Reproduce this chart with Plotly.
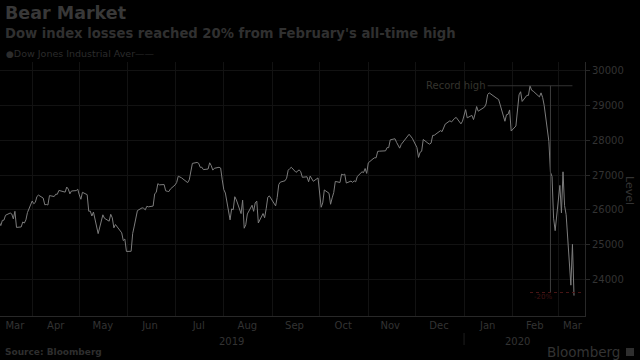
import plotly.graph_objects as go

dates = [
"2019-03-11","2019-03-12","2019-03-13","2019-03-14","2019-03-15","2019-03-18","2019-03-19","2019-03-20","2019-03-21","2019-03-22",
"2019-03-25","2019-03-26","2019-03-27","2019-03-28","2019-03-29",
"2019-04-01","2019-04-02","2019-04-03","2019-04-04","2019-04-05","2019-04-08","2019-04-09","2019-04-10","2019-04-11","2019-04-12",
"2019-04-15","2019-04-16","2019-04-17","2019-04-18","2019-04-22","2019-04-23","2019-04-24","2019-04-25","2019-04-26","2019-04-29","2019-04-30",
"2019-05-01","2019-05-02","2019-05-03","2019-05-06","2019-05-07","2019-05-08","2019-05-09","2019-05-10","2019-05-13","2019-05-14",
"2019-05-15","2019-05-16","2019-05-17","2019-05-20","2019-05-21","2019-05-22","2019-05-23","2019-05-24","2019-05-28","2019-05-29","2019-05-30","2019-05-31",
"2019-06-03","2019-06-04","2019-06-05","2019-06-06","2019-06-07","2019-06-10","2019-06-11","2019-06-12","2019-06-13","2019-06-14",
"2019-06-17","2019-06-18","2019-06-19","2019-06-20","2019-06-21","2019-06-24","2019-06-25","2019-06-26","2019-06-27","2019-06-28",
"2019-07-01","2019-07-02","2019-07-03","2019-07-05","2019-07-08","2019-07-09","2019-07-10","2019-07-11","2019-07-12","2019-07-15",
"2019-07-16","2019-07-17","2019-07-18","2019-07-19","2019-07-22","2019-07-23","2019-07-24","2019-07-25","2019-07-26","2019-07-29","2019-07-30","2019-07-31",
"2019-08-01","2019-08-02","2019-08-05","2019-08-06","2019-08-07","2019-08-08","2019-08-09","2019-08-12","2019-08-13","2019-08-14",
"2019-08-15","2019-08-16","2019-08-19","2019-08-20","2019-08-21","2019-08-22","2019-08-23","2019-08-26","2019-08-27","2019-08-28","2019-08-29","2019-08-30",
"2019-09-03","2019-09-04","2019-09-05","2019-09-06","2019-09-09","2019-09-10","2019-09-11","2019-09-12","2019-09-13","2019-09-16",
"2019-09-17","2019-09-18","2019-09-19","2019-09-20","2019-09-23","2019-09-24","2019-09-25","2019-09-26","2019-09-27","2019-09-30",
"2019-10-01","2019-10-02","2019-10-03","2019-10-04","2019-10-07","2019-10-08","2019-10-09","2019-10-10","2019-10-11","2019-10-14",
"2019-10-15","2019-10-16","2019-10-17","2019-10-18","2019-10-21","2019-10-22","2019-10-23","2019-10-24","2019-10-25","2019-10-28","2019-10-29","2019-10-30","2019-10-31",
"2019-11-01","2019-11-04","2019-11-05","2019-11-06","2019-11-07","2019-11-08","2019-11-11","2019-11-12","2019-11-13","2019-11-14",
"2019-11-15","2019-11-18","2019-11-19","2019-11-20","2019-11-21","2019-11-22","2019-11-25","2019-11-26","2019-11-27","2019-11-29",
"2019-12-02","2019-12-03","2019-12-04","2019-12-05","2019-12-06","2019-12-09","2019-12-10","2019-12-11","2019-12-12","2019-12-13",
"2019-12-16","2019-12-17","2019-12-18","2019-12-19","2019-12-20","2019-12-23","2019-12-24","2019-12-26","2019-12-27","2019-12-30","2019-12-31",
"2020-01-02","2020-01-03","2020-01-06","2020-01-07","2020-01-08","2020-01-09","2020-01-10","2020-01-13","2020-01-14","2020-01-15",
"2020-01-16","2020-01-17","2020-01-21","2020-01-22","2020-01-23","2020-01-24","2020-01-27","2020-01-28","2020-01-29","2020-01-30","2020-01-31",
"2020-02-03","2020-02-04","2020-02-05","2020-02-06","2020-02-07","2020-02-10","2020-02-11","2020-02-12","2020-02-13","2020-02-14",
"2020-02-18","2020-02-19","2020-02-20","2020-02-21","2020-02-24","2020-02-25","2020-02-26","2020-02-27","2020-02-28",
"2020-03-02","2020-03-03","2020-03-04","2020-03-05","2020-03-06","2020-03-09","2020-03-10","2020-03-11",
]

closes = [
25650,25555,25703,25709,25849,25914,25887,25745,25962,25502,
25516,25658,25626,25717,25929,
26258,26179,26218,26385,26425,26341,26150,26157,26143,26412,
26385,26452,26449,26559,26511,26656,26597,26462,26543,26554,26593,
26430,26307,26505,26438,25965,25968,25828,25942,25324,25532,
25648,25862,25764,25680,25877,25776,25490,25585,25347,25126,25169,24815,
24820,25332,25540,25720,25983,26062,26048,26004,26106,26090,
26112,26465,26504,26753,26719,26727,26548,26536,26526,26600,
26717,26787,26966,26922,26806,26783,26860,27088,27332,27359,
27335,27219,27223,27154,27171,27349,27269,27140,27192,27221,27198,26864,
26583,26485,25718,26030,26008,26379,26287,25897,26280,25479,
25579,25886,26136,25962,26202,26253,25629,25899,25778,26037,26363,26403,
26118,26356,26728,26797,26836,26910,27137,27182,27220,27076,
27111,27147,27094,26935,26949,26808,26970,26891,26820,26917,
26573,26078,26201,26573,26478,26164,26346,26497,26817,26787,
27024,27001,27026,26770,26827,26788,26834,26806,26958,27091,27071,27186,27046,
27347,27462,27492,27493,27675,27681,27691,27691,27784,27782,
28005,28036,27934,27822,27767,27876,28066,28122,28164,28051,
27784,27503,27650,27678,28015,27910,27882,27912,28132,28135,
28236,28268,28240,28377,28455,28551,28516,28621,28645,28462,28538,
28869,28634,28704,28584,28745,28957,28824,28907,28940,29030,
29298,29348,29196,29186,29160,28990,28536,28723,28734,28860,28256,
28400,28808,29291,29380,29103,29277,29276,29551,29424,29398,
29232,29348,29219,28992,27961,27081,26957,25766,25409,
26703,25917,27091,26122,25865,23851,25018,23553,
]

month_label_dates = ["2019-03-21","2019-04-16","2019-05-16","2019-06-15","2019-07-16","2019-08-16","2019-09-15","2019-10-16",
                     "2019-11-15","2019-12-16","2020-01-16","2020-02-15","2020-03-10"]
month_labels = ["Mar","Apr","May","Jun","Jul","Aug","Sep","Oct","Nov","Dec","Jan","Feb","Mar"]
month_starts = ["2019-04-01","2019-05-01","2019-06-01","2019-07-01","2019-08-01","2019-09-01","2019-10-01",
                "2019-11-01","2019-12-01","2020-01-01","2020-02-01","2020-03-01"]
y_ticks = [24000, 25000, 26000, 27000, 28000, 29000, 30000]

record_high = 29551
record_date = "2020-02-12"
bear_level = 23641

BG = "#000000"
TXT = "#333333"
GRID = "#121212"
AX = "#282828"
FONT = "DejaVu Sans"

W, H = 640, 360
L, R, T, B = 0, 55, 62, 44
PW, PH = W - L - R, H - T - B

def px(x):
    return (x - L) / PW

def py(y):
    return (H - B - y) / PH

fig = go.Figure()
fig.add_trace(go.Scatter(x=dates, y=closes, mode="lines",
                         line=dict(color="#7c7c7c", width=1),
                         showlegend=False, hoverinfo="skip"))

# record-high reference line
fig.add_shape(type="line", xref="x", yref="y", x0="2020-01-16", x1="2020-03-10",
              y0=record_high, y1=record_high, line=dict(color="#333333", width=1))
# drop marker vertical line
fig.add_shape(type="line", xref="x", yref="y", x0="2020-02-25", x1="2020-02-25",
              y0=record_high, y1=bear_level, line=dict(color="#3e3e3e", width=1))
# -20% level
fig.add_shape(type="line", xref="x", yref="y", x0="2020-02-12", x1="2020-03-17",
              y0=bear_level, y1=bear_level, line=dict(color="#4a1616", width=1, dash="dot"))
# year divider tick
fig.add_shape(type="line", xref="x", yref="paper", x0="2020-01-01", x1="2020-01-01",
              y0=py(333), y1=py(345), line=dict(color="#1e1e1e", width=1))

ann = []
ann.append(dict(text="Bear Market", x=px(3), y=py(13), xref="paper", yref="paper",
                xanchor="left", yanchor="middle", showarrow=False,
                font=dict(family=FONT, size=17.5, color="#383838", weight="bold")))
ann.append(dict(text="Dow index losses reached 20% from February's all-time high", x=px(3), y=py(33),
                xref="paper", yref="paper", xanchor="left", yanchor="middle", showarrow=False,
                font=dict(family=FONT, size=13.2, color="#303030", weight="bold")))
ann.append(dict(text="<span style='font-size:9px'>●</span>Dow Jones Industrial Aver\u2014\u2014", x=px(4), y=py(53),
                xref="paper", yref="paper", xanchor="left", yanchor="middle", showarrow=False,
                font=dict(family=FONT, size=9.5, color="#2c2c2c")))
ann.append(dict(text="Record high", x="2020-01-16", y=record_high, xref="x", yref="y",
                xanchor="right", yanchor="middle", showarrow=False,
                font=dict(family=FONT, size=10, color="#35342e")))
ann.append(dict(text="-20%", x="2020-02-13", y=bear_level, xref="x", yref="y",
                xanchor="left", yanchor="top", yshift=2, showarrow=False,
                font=dict(family=FONT, size=7, color="#421414")))
ann.append(dict(text="Level", x=px(630), y=py(190), xref="paper", yref="paper",
                xanchor="center", yanchor="middle", textangle=90, showarrow=False,
                font=dict(family=FONT, size=11, color=TXT)))
ann.append(dict(text="2019", x="2019-08-06", y=py(341), xref="x", yref="paper",
                xanchor="center", yanchor="middle", showarrow=False,
                font=dict(family=FONT, size=10, color=TXT)))
ann.append(dict(text="2020", x="2020-02-04", y=py(341), xref="x", yref="paper",
                xanchor="center", yanchor="middle", showarrow=False,
                font=dict(family=FONT, size=10, color=TXT)))
ann.append(dict(text="Source: Bloomberg", x=px(3), y=py(352), xref="paper", yref="paper",
                xanchor="left", yanchor="middle", showarrow=False,
                font=dict(family=FONT, size=9, color="#2e2e2e", weight="bold")))
ann.append(dict(text="Bloomberg", x=px(622), y=py(352), xref="paper", yref="paper",
                xanchor="right", yanchor="middle", showarrow=False,
                font=dict(family=FONT, size=13.5, color="#333333")))
fig.add_shape(type="rect", xref="paper", yref="paper", x0=px(626), x1=px(634), y0=py(356), y1=py(348),
              fillcolor="#2e2e2e", line=dict(width=0))

fig.update_layout(
    width=W, height=H,
    margin=dict(l=L, r=R, t=T, b=B),
    paper_bgcolor=BG, plot_bgcolor=BG,
    annotations=ann,
    font=dict(family=FONT, color=TXT, size=10),
    xaxis=dict(range=["2019-03-11 12:00", "2020-03-18"], type="date",
               tickvals=month_label_dates, ticktext=month_labels, ticks="",
               showgrid=False, showline=True, linecolor=AX, linewidth=1,
               tickfont=dict(family=FONT, size=10, color=TXT),
               minor=dict(tickvals=month_starts, showgrid=True, gridcolor=GRID, gridwidth=1, ticks=""),
               zeroline=False, fixedrange=True),
    yaxis=dict(range=[22970, 30230], side="right", tickvals=y_ticks,
               ticktext=[str(v) for v in y_ticks],
               ticks="outside", ticklen=4, tickcolor=AX, showline=True, linecolor=AX, linewidth=1,
               showgrid=True, gridcolor=GRID, gridwidth=1, zeroline=False,
               tickfont=dict(family=FONT, size=10, color=TXT), fixedrange=True),
)

fig.write_html("out.html")
